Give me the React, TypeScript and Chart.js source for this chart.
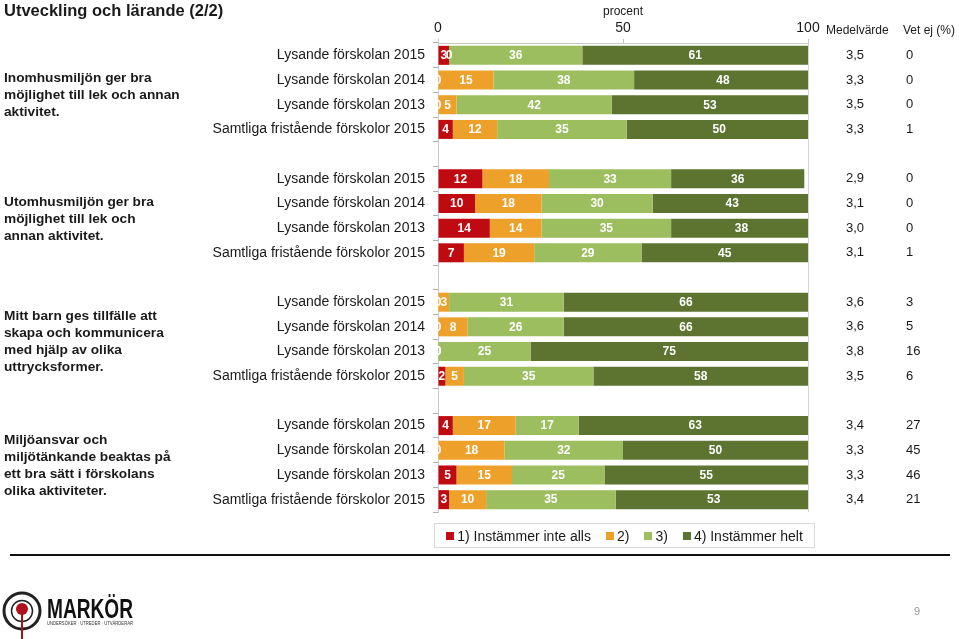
import React, { useEffect, useRef } from "react";
import { Chart, registerables } from "chart.js";

Chart.register(...registerables);

const rowLabels = [
  "Lysande förskolan 2015",
  "Lysande förskolan 2014",
  "Lysande förskolan 2013",
  "Samtliga fristående förskolor 2015",
];
const categories = [
  ...rowLabels, "",
  ...rowLabels, "",
  ...rowLabels, "",
  ...rowLabels,
];

const seriesNames = ["1) Instämmer inte alls", "2)", "3)", "4) Instämmer helt"];
const seriesColors = ["#BF0A12", "#EDA12B", "#9DBE5E", "#5D7430"];

const s1 = [3, 0, 0, 4, null, 12, 10, 14, 7, null, 0, 0, 0, 2, null, 4, 0, 5, 3];
const s2 = [0, 15, 5, 12, null, 18, 18, 14, 19, null, 3, 8, 0, 5, null, 17, 18, 15, 10];
const s3 = [36, 38, 42, 35, null, 33, 30, 35, 29, null, 31, 26, 25, 35, null, 17, 32, 25, 35];
const s4 = [61, 48, 53, 50, null, 36, 43, 38, 45, null, 66, 66, 75, 58, null, 63, 50, 55, 53];

const medel = ["3,5", "3,3", "3,5", "3,3", "", "2,9", "3,1", "3,0", "3,1", "", "3,6", "3,6", "3,8", "3,5", "", "3,4", "3,3", "3,3", "3,4"];
const vetEj = ["0", "0", "0", "1", "", "0", "0", "0", "1", "", "3", "5", "16", "6", "", "27", "45", "46", "21"];

const groupTitles = [
  ["Inomhusmiljön ger bra", "möjlighet till lek och annan", "aktivitet."],
  ["Utomhusmiljön ger bra", "möjlighet till lek och", "annan aktivitet."],
  ["Mitt barn ges tillfälle att", "skapa och kommunicera", "med hjälp av olika", "uttrycksformer."],
  ["Miljöansvar och", "miljötänkande beaktas på", "ett bra sätt i förskolans", "olika aktiviteter."],
];
const groupStart = [0, 5, 10, 15];

const xTicks = [0, 50, 100];

const FONT = '"Liberation Sans", Arial, sans-serif';

const valueLabels = {
  id: "valueLabels",
  afterDatasetsDraw(chart: any) {
    const { ctx } = chart;
    ctx.save();
    ctx.font = `bold 12px ${FONT}`;
    ctx.fillStyle = "#ffffff";
    ctx.textAlign = "center";
    ctx.textBaseline = "middle";
    chart.data.datasets.forEach((ds: any, di: number) => {
      const meta = chart.getDatasetMeta(di);
      meta.data.forEach((el: any, i: number) => {
        const v = ds.data[i];
        if (v === null || v === undefined) return;
        const cx = (el.x + el.base) / 2;
        ctx.fillText(String(v), cx, el.y + 0.5);
      });
    });
    ctx.restore();
  },
};

const extras = {
  id: "extras",
  afterDraw(chart: any) {
    const { ctx } = chart;
    const y = chart.scales.y;
    ctx.save();
    ctx.fillStyle = "#1a1a1a";
    ctx.textBaseline = "middle";
    ctx.textAlign = "left";
    ctx.font = `12px ${FONT}`;
    ctx.fillText("Medelvärde", 826, 31);
    ctx.fillText("Vet ej (%)", 903, 31);
    ctx.font = `13px ${FONT}`;
    categories.forEach((c, i) => {
      if (!medel[i]) return;
      const py = y.getPixelForValue(i);
      ctx.fillText(medel[i], 846, py);
      ctx.fillText(vetEj[i], 906, py);
    });
    ctx.font = `bold 13.7px ${FONT}`;
    groupTitles.forEach((lines, g) => {
      const top = y.getPixelForValue(groupStart[g]);
      const bot = y.getPixelForValue(groupStart[g] + 3);
      const mid = (top + bot) / 2 + 3;
      const lh = 17;
      const start = mid - ((lines.length - 1) * lh) / 2;
      lines.forEach((t, k) => ctx.fillText(t, 4, start + k * lh));
    });
    ctx.restore();
  },
};

export default function App() {
  const ref = useRef<HTMLCanvasElement>(null);
  useEffect(() => {
    document.body.style.margin = "0";
    const datasets = [s1, s2, s3, s4].map((d, i) => ({
      label: seriesNames[i],
      data: d,
      backgroundColor: seriesColors[i],
      borderWidth: 0,
      barPercentage: 0.77,
      categoryPercentage: 1,
    }));
    const chart = new Chart(ref.current as HTMLCanvasElement, {
      type: "bar",
      data: { labels: categories, datasets },
      options: {
        indexAxis: "y",
        animation: false,
        responsive: false,
        maintainAspectRatio: false,
        layout: { padding: { left: 0, top: 0, right: 151, bottom: 127 } },
        plugins: {
          legend: { display: false },
          tooltip: { enabled: false },
        },
        scales: {
          x: {
            position: "top",
            stacked: true,
            min: 0,
            max: 100,
            afterBuildTicks(axis: any) {
              axis.ticks = xTicks.map((v) => ({ value: v }));
            },
            afterFit(axis: any) {
              axis.height = 43;
            },
            ticks: {
              font: { family: FONT, size: 14 },
              color: "#1a1a1a",
              padding: 2,
              maxRotation: 0,
            },
            title: {
              display: true,
              text: "procent",
              font: { family: FONT, size: 12 },
              color: "#1a1a1a",
              padding: { top: 4, bottom: 0 },
            },
            grid: {
              tickLength: 4,
              color: (c: any) => (c.tick && c.tick.value === 100 ? "#d4d4d4" : "rgba(0,0,0,0)"),
              tickColor: "#c8c8c8",
            },
            border: { display: true, color: "#c8c8c8" },
          },
          y: {
            stacked: true,
            afterFit(axis: any) {
              axis.width = 438;
            },
            ticks: {
              font: { family: FONT, size: 14 },
              color: "#1a1a1a",
              padding: 8,
              autoSkip: false,
            },
            grid: {
              offset: true,
              drawOnChartArea: false,
              tickLength: 5,
              tickColor: "#b0b0b0",
            },
            border: { display: true, color: "#c8c8c8" },
          },
        },
      },
      plugins: [valueLabels, extras],
    } as any);
    return () => chart.destroy();
  }, []);

  const legendItem = (i: number) => (
    <span key={i} style={{ display: "inline-flex", alignItems: "center", marginRight: i < 3 ? 15 : 0 }}>
      <span style={{ width: 8, height: 8, background: seriesColors[i], display: "inline-block", marginRight: 3 }} />
      {seriesNames[i]}
    </span>
  );

  return (
    <div style={{ position: "fixed", left: 0, top: 0, width: 959, height: 639, background: "#fff", fontFamily: FONT, overflow: "hidden" }}>
      <canvas ref={ref} width={959} height={639} style={{ position: "absolute", left: 0, top: 0 }} />
      <div style={{ position: "absolute", left: 4, top: -1, fontSize: 16.5, fontWeight: "bold", color: "#1a1a1a", lineHeight: "22px" }}>
        Utveckling och lärande (2/2)
      </div>
      <div
        style={{
          position: "absolute",
          left: 434,
          top: 523,
          width: 381,
          height: 25,
          border: "1px solid #d9d9d9",
          boxSizing: "border-box",
          display: "flex",
          alignItems: "center",
          justifyContent: "center",
          fontSize: 14,
          color: "#1a1a1a",
        }}
      >
        {[0, 1, 2, 3].map(legendItem)}
      </div>
      <div style={{ position: "absolute", left: 10, top: 554, width: 940, height: 2, background: "#111" }} />
      <svg style={{ position: "absolute", left: 0, top: 586 }} width={140} height={53}>
        <circle cx={22} cy={25} r={18} fill="none" stroke="#222" strokeWidth={3} />
        <circle cx={22} cy={25} r={10.5} fill="none" stroke="#222" strokeWidth={1.5} />
        <line x1={22} y1={53} x2={22} y2={27} stroke="#a11" strokeWidth={2} />
        <circle cx={22} cy={23} r={6} fill="#b0101a" />
        <text x={47} y={32} fontFamily={FONT} fontWeight="bold" fontSize={27} fill="#111" textLength={86} lengthAdjust="spacingAndGlyphs">MARKÖR</text>
        <text x={47} y={39} fontFamily={FONT} fontSize={5} fill="#333" textLength={86} lengthAdjust="spacingAndGlyphs">UNDERSÖKER · UTREDER · UTVÄRDERAR</text>
      </svg>
      <div style={{ position: "absolute", left: 914, top: 605, fontSize: 11, color: "#999" }}>9</div>
    </div>
  );
}
